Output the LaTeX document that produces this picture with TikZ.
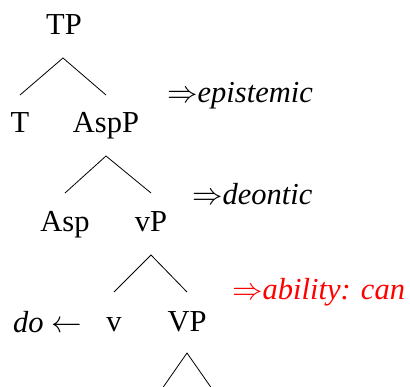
\documentclass[tikz,border=0pt]{standalone}
\usepackage{fontspec}
\setmainfont{Liberation Serif}
\DeclareFontShape{OMS}{cmsy}{m}{n}{<-> cmsy10}{}
\begin{document}
\begin{tikzpicture}[x=1pt,y=-1pt,
  lab/.style={anchor=base,inner sep=0pt,font=\fontsize{30.5}{36}\selectfont},
  note/.style={anchor=base west,inner sep=0pt,font=\fontsize{30.5}{36}\selectfont\itshape},
  branch/.style={line width=0.8pt,black}]
\useasboundingbox (0,0) rectangle (410,387);
\node[lab] (TP) at (64,35) {TP};
\node[lab] (T) at (20,133) {T};
\node[lab] (AspP) at (106,133) {AspP};
\node[lab] (Asp) at (65,232) {Asp};
\node[lab] (vP) at (151,232) {vP};
\node[lab] (v) at (114,332) {v};
\node[lab] (VP) at (187,332) {VP};
\node[note] (epi) at (167,103) {$\Rightarrow$epistemic};
\node[note] (deo) at (192,205) {$\Rightarrow$deontic};
\node[note,text=red] (abl) at (232,300) {$\Rightarrow$ability: can};
\node[note] (do) at (13,333) {do $\leftarrow$};
\coordinate (VPl) at ([shift={(-30pt,-64pt)}]VP.base);
\coordinate (VPr) at ([shift={(30pt,-64pt)}]VP.base);
\draw[branch] ([yshift=38pt]T.base) -- ([shift={(-1pt,-23pt)}]TP.base) -- ([yshift=38pt]AspP.base);
\draw[branch] ([yshift=39pt]Asp.base) -- ([yshift=-23pt]AspP.base) -- ([yshift=39pt]vP.base);
\draw[branch] ([yshift=40pt]v.base) -- ([yshift=-23pt]vP.base) -- ([yshift=40pt]VP.base);
\draw[branch] (VPl) -- ([yshift=-21pt]VP.base) -- (VPr);
\end{tikzpicture}
\end{document}
